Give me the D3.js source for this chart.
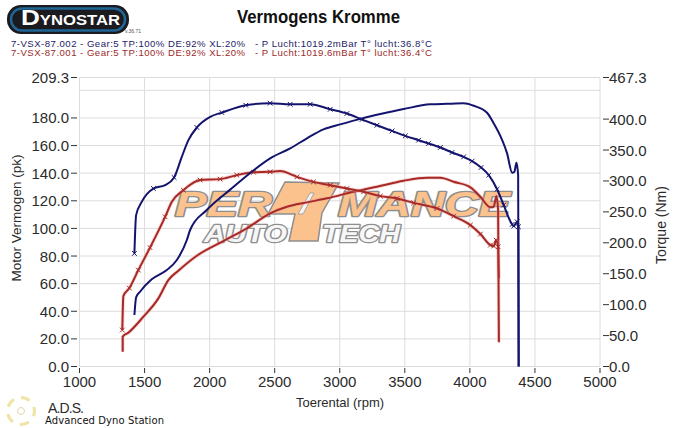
<!DOCTYPE html>
<html>
<head>
<meta charset="utf-8">
<script src="https://cdn.jsdelivr.net/npm/d3@7"></script>
<style>
    html, body { margin: 0; padding: 0; background: #fff; }
    svg { display: block; }
    text { font-family: "Liberation Sans", Arial, sans-serif; }
</style>
</head>
<body>
<div id="chart"></div>
<script>
const xTicks = [1000, 1500, 2000, 2500, 3000, 3500, 4000, 4500, 5000];
const powerLabels = [0, 20, 40, 60, 80, 100, 120, 140, 160, 180, 209.3];
const powerGrid = [0, 20, 40, 60, 80, 100, 120, 140, 160, 180, 200, 209.3];
const torqueLabels = [0, 50, 100, 150, 200, 250, 300, 350, 400, 467.3];

const legendLines = [
    "7-VSX-87.002 - Gear:5 TP:100% DE:92% XL:20%   - P Lucht:1019.2mBar T° lucht:36.8°C",
    "7-VSX-87.001 - Gear:5 TP:100% DE:92% XL:20%   - P Lucht:1019.6mBar T° lucht:36.4°C"
];

// run .002
const bluePowerRpm = [1422, 1435, 1478, 1568, 1658, 1727, 1786, 1837, 1902, 2004, 2094, 2278, 2465, 2619, 2773, 2927, 3055, 3171, 3286, 3402, 3504, 3606, 3683, 3773, 3863, 3952, 4017, 4086, 4145, 4209, 4260, 4325, 4337, 4363, 4373, 4375];
const bluePower = [81.9, 109.6, 119.2, 128.9, 131.3, 136.9, 151.8, 163.9, 173.1, 180.8, 183.9, 189.2, 190.7, 189.9, 189.9, 186.3, 183.2, 178.9, 174.7, 170.6, 167, 163.9, 161.5, 158.6, 155, 151.8, 148.7, 144.1, 138.6, 128.4, 116.9, 102.9, 101.7, 104.8, 101.2, 0];
const blueTorqueRpm = [1422, 1435, 1465, 1555, 1671, 1748, 1825, 1850, 1978, 2158, 2312, 2465, 2619, 2748, 2875, 3004, 3171, 3312, 3491, 3696, 3825, 3952, 4029, 4132, 4183, 4248, 4286, 4325, 4342, 4358, 4371, 4375];
const blueTorque = [83.3, 111.9, 120.9, 141, 156, 172.2, 204.5, 220.7, 253, 286, 313, 336.6, 352.7, 369, 383.4, 391.5, 401.2, 408.2, 416.3, 423.9, 424.8, 425.5, 421.6, 410.3, 393.1, 366.1, 344.6, 313.3, 314.9, 329.5, 309.6, 0];

// run .001
const redPowerRpm = [1329, 1337, 1383, 1452, 1542, 1658, 1709, 1798, 1927, 2081, 2209, 2337, 2465, 2542, 2671, 2798, 2927, 3055, 3183, 3312, 3440, 3568, 3748, 3875, 4004, 4081, 4158, 4183, 4202, 4217, 4222];
const redPower = [26.4, 51, 56.8, 69.8, 86.1, 108.4, 119.2, 127.7, 135, 135.7, 138.6, 140.7, 141, 141.5, 137.3, 133.7, 131.3, 128.9, 126.5, 123.4, 121.7, 118.5, 114.5, 108.9, 102.4, 95.9, 87.9, 87.2, 91.5, 86.7, 63.8];
const redTorqueRpm = [1332, 1332, 1375, 1491, 1606, 1683, 1760, 1902, 2106, 2286, 2465, 2594, 2748, 2902, 3106, 3286, 3491, 3671, 3773, 3875, 4004, 4081, 4158, 4183, 4204, 4217, 4223];
const redTorque = [23.9, 48.2, 54.6, 80.5, 110.2, 139.8, 154.9, 179.1, 202.9, 223.4, 247.7, 258.3, 265.4, 271.9, 282.6, 290.7, 300.4, 305.2, 305.2, 298.7, 289.7, 274.5, 257.4, 258.3, 275.6, 253, 39.1];

// which power points carry an x marker
const blueMarks = [0, 3, 5, 8, 10, 11, 12, 13, 14, 15, 16, 17, 18, 19, 20, 21, 22, 23, 24, 25, 26, 27, 28, 29, 30, 31, 32, 33, 34];
const redMarks = [0, 2, 3, 4, 5, 7, 8, 9, 10, 11, 12, 14, 15, 16, 17, 18, 19, 20, 21, 22, 23, 24, 25, 26, 27, 28, 29];

const BLUE = "#14146e";
const RED = "#a62a26";
const GRID = "#dcdcdc";
const TEXT = "#2b2b2b";

const svg = d3.select("#chart").append("svg").attr("width", 685).attr("height", 428);

const x = d3.scaleLinear().domain([1000, 5000]).range([79.5, 600]);
const yPower = d3.scaleLinear().domain([0, 209.3]).range([366.5, 77.5]);
const yTorque = d3.scaleLinear().domain([0, 467.3]).range([366.5, 77.5]);

drawGrid();
drawWatermark();
drawAxes();
drawHeader();
drawFooter();

drawCurve(redTorqueRpm, redTorque, yTorque, RED, null);
drawCurve(redPowerRpm, redPower, yPower, RED, redMarks);
drawCurve(blueTorqueRpm, blueTorque, yTorque, BLUE, null);
drawCurve(bluePowerRpm, bluePower, yPower, BLUE, blueMarks);

function drawGrid() {
    const grid = svg.append("g").attr("stroke", GRID).attr("stroke-width", 1);

    grid.selectAll(".v").data(xTicks).join("line").attr("class", "v")
        .attr("x1", d => x(d)).attr("x2", d => x(d))
        .attr("y1", yPower(209.3)).attr("y2", yPower(0));

    grid.selectAll(".h").data(powerGrid).join("line").attr("class", "h")
        .attr("x1", x(1000)).attr("x2", x(5000))
        .attr("y1", d => yPower(d)).attr("y2", d => yPower(d));
}

/**
 * Sponsor logo behind the curves.
 */
function drawWatermark() {
    const mark = svg.append("g");
    const orange = "#fbc28d";
    const edge = "#8e8e8e";

    function word(label, x0, base, w, size, fill) {
        mark.append("text")
            .attr("x", x0).attr("y", base)
            .attr("textLength", w).attr("lengthAdjust", "spacingAndGlyphs")
            .attr("font-size", size).attr("font-weight", "bold").attr("font-style", "italic")
            .attr("fill", fill).attr("stroke", edge).attr("stroke-width", 2.6)
            .attr("paint-order", "stroke").attr("stroke-linejoin", "round")
            .text(label);
    }
    word("PER", 175, 216, 97, 35, orange);
    word("MANCE", 338, 216, 172, 35, orange);
    word("AUTO", 204, 242, 83, 24, "#f6f6f6");
    word("TECH", 322, 242, 78, 24, "#f6f6f6");

    const big = mark.append("g");
    big.append("path")
        .attr("d", "M285,182 L339,183 L322,213 L318,241 L289,241 L295,214 L268,214 Z")
        .attr("fill", orange).attr("stroke", edge).attr("stroke-width", 1.5);
    big.append("path")
        .attr("d", "M310,193 L314,193 L303,214 L298,214 Z")
        .attr("fill", "#f4f4f4").attr("stroke", edge).attr("stroke-width", 0.7);
}

function drawAxes() {
    const labels = svg.append("g").attr("fill", TEXT).attr("font-size", 15);

    labels.selectAll(".left").data(powerLabels).join("text").attr("class", "left")
        .attr("x", 69).attr("y", d => yPower(d) + 5.5).attr("text-anchor", "end")
        .text(d => d.toFixed(1));

    labels.selectAll(".right").data(torqueLabels).join("text").attr("class", "right")
        .attr("x", 609).attr("y", d => yTorque(d) + 5.5)
        .text(d => d.toFixed(1));

    labels.selectAll(".bottom").data(xTicks).join("text").attr("class", "bottom")
        .attr("x", d => x(d)).attr("y", 387).attr("text-anchor", "middle")
        .text(d => d);

    const ticks = svg.append("g").attr("stroke", "#333").attr("stroke-width", 1);

    ticks.selectAll(".tl").data(powerLabels).join("line").attr("class", "tl")
        .attr("x1", 71).attr("x2", 77)
        .attr("y1", d => yPower(d)).attr("y2", d => yPower(d));

    ticks.selectAll(".tr").data(torqueLabels).join("line").attr("class", "tr")
        .attr("x1", 603).attr("x2", 609)
        .attr("y1", d => yTorque(d)).attr("y2", d => yTorque(d));

    ticks.selectAll(".tb").data(xTicks).join("line").attr("class", "tb")
        .attr("x1", d => x(d)).attr("x2", d => x(d))
        .attr("y1", 368).attr("y2", 373);

    svg.append("text").attr("x", 340).attr("y", 407).attr("text-anchor", "middle")
        .attr("font-size", 13).attr("fill", TEXT).text("Toerental (rpm)");

    svg.append("text").attr("transform", "translate(21,218) rotate(-90)").attr("text-anchor", "middle")
        .attr("font-size", 13.5).attr("fill", TEXT).text("Motor Vermogen (pk)");

    svg.append("text").attr("transform", "translate(666,225) rotate(-90)").attr("text-anchor", "middle")
        .attr("font-size", 14).attr("fill", TEXT).text("Torque (Nm)");
}

function drawHeader() {
    svg.append("text").attr("x", 237).attr("y", 23)
        .attr("textLength", 163).attr("lengthAdjust", "spacingAndGlyphs")
        .attr("font-size", 19).attr("font-weight", "bold").attr("fill", "#111")
        .text("Vermogens Kromme");

    svg.selectAll(".legend").data(legendLines).join("text").attr("class", "legend")
        .attr("x", 11).attr("y", (d, i) => 47 + i * 9)
        .attr("textLength", 421).attr("xml:space", "preserve").style("white-space", "pre")
        .attr("font-size", 9.6).attr("fill", (d, i) => i === 0 ? "#1c1c66" : "#9c2a2a")
        .text(d => d);

    // Dynostar badge
    const logo = svg.append("g");
    logo.append("rect").attr("x", 7).attr("y", 5).attr("width", 122).attr("height", 29).attr("rx", 14)
        .attr("fill", "#1b1b1f");
    logo.append("rect").attr("x", 11).attr("y", 8.5).attr("width", 114).attr("height", 22).attr("rx", 11)
        .attr("fill", "none").attr("stroke", "#1f6596").attr("stroke-width", 2.5);
    const name = logo.append("text").attr("x", 21).attr("y", 25)
        .attr("textLength", 99).attr("lengthAdjust", "spacingAndGlyphs")
        .attr("font-weight", "bold").attr("fill", "#fff");
    name.append("tspan").attr("font-size", 22).text("D");
    name.append("tspan").attr("font-size", 14).text("YNOSTAR");
    svg.append("text").attr("x", 125).attr("y", 33).attr("font-size", 5).attr("fill", "#555").text("v.36.71");
}

function drawFooter() {
    const arcs = d3.arc().innerRadius(12).outerRadius(15);
    const seal = svg.append("g").attr("transform", "translate(21,411)");
    seal.selectAll("path").data(d3.range(0, 5)).join("path")
        .attr("d", i => arcs({startAngle: i * 1.26, endAngle: i * 1.26 + 0.7}))
        .attr("fill", "#efe3a6");
    seal.append("circle").attr("r", 3.5).attr("fill", "none").attr("stroke", "#e2d8a8");

    svg.append("text").attr("x", 48).attr("y", 413).attr("textLength", 36)
        .attr("font-size", 14).attr("fill", TEXT).text("A.D.S.");
    svg.append("text").attr("x", 45).attr("y", 423.5).attr("textLength", 119)
        .style("font-family", "DejaVu Sans")
        .attr("font-size", 10).attr("fill", "#111").text("Advanced Dyno Station");
}

function drawCurve(rpm, values, scale, colour, marks) {
    const points = rpm.map((r, i) => [r, values[i]]);
    const line = d3.line().x(d => x(d[0])).y(d => scale(d[1])).curve(d3.curveMonotoneX);

    if (colour === RED) {
        svg.append("path").attr("d", line(points)).attr("fill", "none")
            .attr("stroke", "#f4a0a0").attr("stroke-width", 3.6).attr("opacity", 0.45);
    }
    svg.append("path").attr("d", line(points)).attr("fill", "none")
        .attr("stroke", colour).attr("stroke-width", 2).attr("stroke-linejoin", "round");

    if (marks) {
        const symbol = d3.symbol().type(d3.symbolX).size(16);
        svg.append("g").selectAll("path").data(marks).join("path")
            .attr("d", symbol)
            .attr("transform", i => "translate(" + x(points[i][0]) + "," + scale(points[i][1]) + ")")
            .attr("fill", "none").attr("stroke", colour).attr("stroke-width", 1);
    }
}
</script>
</body>
</html>
